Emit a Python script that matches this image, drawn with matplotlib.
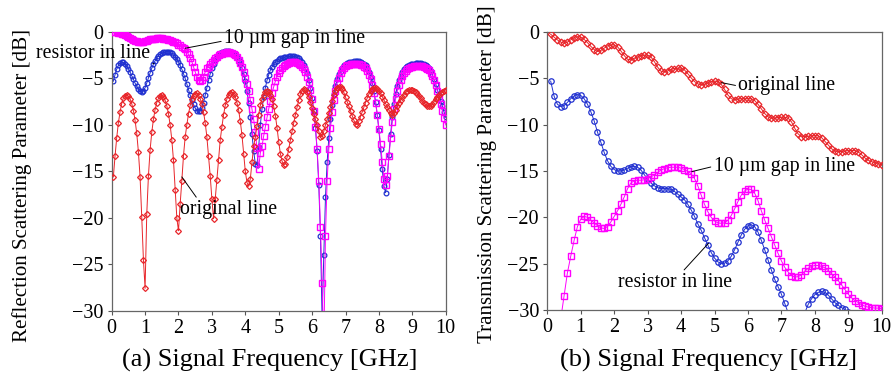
import numpy as np
import matplotlib
matplotlib.use('Agg')
import matplotlib.pyplot as plt

plt.rcParams['font.family'] = ['Liberation Serif', 'DejaVu Serif']

# (a) reflection, sweep 0.05 .. 10 GHz, step 0.05 GHz
freq_a = np.round(np.arange(1, 201) * 0.05, 2)

s11_original = [
    -15.6, -13.4, -11.4, -9.8, -8.6, -7.7, -7.1, -6.85, -6.8, -6.9,
    -7.2, -7.7, -8.45, -9.5, -10.9, -12.9, -15.6, -19.9, -24.5, -27.6,
    -19.6, -15.5, -12.7, -10.8, -9.4, -8.35, -7.6, -7.15, -6.87, -6.82,
    -7.0, -7.35, -7.95, -8.8, -10.0, -11.6, -13.8, -17.0, -20.0, -21.4,
    -18.5, -16.0, -13.3, -11.3, -10.0, -8.8, -7.9, -7.25, -6.85, -6.64,
    -6.6, -6.8, -7.2, -7.75, -8.6, -9.8, -11.3, -13.4, -15.5, -18.0,
    -20.1, -18.0, -15.9, -13.75, -11.6, -10.2, -8.9, -7.9, -7.2, -6.8,
    -6.55, -6.5, -6.7, -7.0, -7.6, -8.4, -9.6, -11.1, -13.1, -15.0,
    -16.2, -16.6, -15.8, -14.0, -12.3, -11.3, -10.1, -8.9, -7.9, -7.2,
    -6.75, -6.5, -6.4, -6.45, -6.75, -7.25, -8.0, -9.0, -10.3, -11.8,
    -13.1, -13.9, -14.3, -14.2, -13.5, -12.6, -11.6, -10.7, -9.8, -8.9,
    -8.1, -7.3, -6.7, -6.3, -6.1, -6.2, -6.5, -7.0, -7.55, -8.2,
    -8.8, -9.4, -10.05, -10.7, -11.3, -11.2, -10.7, -10.0, -9.4, -8.7,
    -8.1, -7.4, -6.8, -6.35, -6.0, -5.9, -5.95, -6.15, -6.5, -7.0,
    -7.5, -8.0, -8.5, -9.0, -9.5, -9.85, -10.0, -9.6, -9.1, -8.6,
    -8.1, -7.6, -7.1, -6.7, -6.35, -6.1, -6.0, -6.0, -6.1, -6.3,
    -6.6, -6.95, -7.3, -7.7, -8.05, -8.4, -8.7, -8.9, -8.75, -8.4,
    -8.0, -7.65, -7.3, -7.0, -6.75, -6.5, -6.35, -6.27, -6.25, -6.25,
    -6.3, -6.45, -6.65, -6.9, -7.15, -7.4, -7.6, -7.8, -7.95, -8.0,
    -7.95, -7.75, -7.5, -7.25, -7.0, -6.8, -6.6, -6.45, -6.3, -6.2,
]

s11_resistor = [
    -5.3, -4.6, -4.0, -3.6, -3.35, -3.25, -3.25, -3.4, -3.65, -3.95,
    -4.3, -4.7, -5.1, -5.5, -5.85, -6.15, -6.35, -6.45, -6.35, -6.0,
    -5.5, -4.95, -4.4, -3.9, -3.45, -3.1, -2.8, -2.55, -2.4, -2.25,
    -2.2, -2.15, -2.15, -2.15, -2.2, -2.3, -2.45, -2.65, -2.9, -3.2,
    -3.6, -4.0, -4.5, -5.0, -5.6, -6.2, -6.8, -7.3, -7.8, -8.2,
    -8.45, -8.55, -8.5, -8.2, -7.6, -6.8, -6.0, -5.2, -4.5, -3.9,
    -3.4, -3.0, -2.7, -2.45, -2.3, -2.2, -2.1, -2.05, -2.05, -2.05,
    -2.1, -2.15, -2.25, -2.45, -2.7, -3.0, -3.4, -3.9, -4.5, -5.3,
    -6.3, -7.6, -9.2, -11.0, -12.8, -14.2, -14.3, -12.4, -10.0, -8.3,
    -7.0, -6.0, -5.2, -4.6, -4.1, -3.75, -3.45, -3.25, -3.1, -2.95,
    -2.85, -2.78, -2.72, -2.68, -2.65, -2.63, -2.62, -2.62, -2.63, -2.66,
    -2.72, -2.82, -2.97, -3.2, -3.5, -3.9, -4.45, -5.15, -6.0, -7.1,
    -8.5, -10.3, -12.8, -16.5, -22.0, -31.0, -24.0, -17.8, -14.0, -11.4,
    -9.4, -7.9, -6.7, -5.8, -5.1, -4.55, -4.15, -3.85, -3.6, -3.45,
    -3.35, -3.27, -3.25, -3.2, -3.17, -3.15, -3.15, -3.17, -3.22, -3.3,
    -3.42, -3.6, -3.9, -4.3, -4.85, -5.5, -6.4, -7.5, -8.9, -10.6,
    -12.6, -14.8, -16.6, -17.3, -15.8, -13.2, -11.0, -9.2, -7.8, -6.7,
    -5.85, -5.2, -4.7, -4.3, -4.0, -3.8, -3.65, -3.55, -3.48, -3.43,
    -3.4, -3.38, -3.37, -3.37, -3.38, -3.4, -3.45, -3.55, -3.7, -3.9,
    -4.2, -4.6, -5.1, -5.6, -6.2, -6.8, -7.4, -8.0, -8.6, -9.2,
]

s11_gap = [
    -0.02, -0.03, -0.05, -0.08, -0.12, -0.18, -0.26, -0.35, -0.45, -0.55,
    -0.65, -0.75, -0.85, -0.93, -0.99, -1.03, -1.05, -1.05, -1.03, -0.98,
    -0.92, -0.86, -0.8, -0.76, -0.72, -0.7, -0.68, -0.67, -0.67, -0.68,
    -0.7, -0.73, -0.77, -0.82, -0.88, -0.95, -1.03, -1.12, -1.22, -1.35,
    -1.45, -1.58, -1.72, -1.88, -2.1, -2.4, -2.8, -3.2, -3.75, -4.3,
    -4.8, -5.15, -5.3, -5.2, -4.8, -4.3, -3.9, -3.75, -3.45, -3.2,
    -3.0, -2.8, -2.65, -2.5, -2.4, -2.32, -2.26, -2.22, -2.2, -2.2,
    -2.22, -2.27, -2.35, -2.5, -2.7, -3.0, -3.35, -3.8, -4.3, -4.9,
    -5.6, -6.4, -7.3, -8.3, -9.4, -10.8, -12.5, -14.7, -13.0, -12.3,
    -11.2, -10.2, -9.2, -8.3, -7.4, -6.6, -5.9, -5.3, -4.8, -4.4,
    -4.1, -3.85, -3.65, -3.5, -3.4, -3.33, -3.28, -3.26, -3.26, -3.28,
    -3.33, -3.42, -3.55, -3.75, -4.0, -4.35, -4.8, -5.4, -6.2, -7.2,
    -8.5, -10.2, -12.6, -16.0, -21.0, -27.0, -34.0, -22.0, -16.0, -12.6,
    -10.3, -8.6, -7.3, -6.3, -5.5, -4.9, -4.45, -4.1, -3.85, -3.7,
    -3.6, -3.52, -3.47, -3.44, -3.42, -3.42, -3.43, -3.46, -3.52, -3.6,
    -3.72, -3.9, -4.2, -4.6, -5.1, -5.75, -6.6, -7.6, -8.9, -10.4,
    -12.1, -14.0, -15.8, -16.5, -15.5, -13.4, -11.4, -9.7, -8.3, -7.2,
    -6.35, -5.7, -5.15, -4.75, -4.45, -4.2, -4.02, -3.9, -3.8, -3.74,
    -3.7, -3.68, -3.67, -3.67, -3.68, -3.7, -3.75, -3.83, -3.95, -4.12,
    -4.38, -4.75, -5.2, -5.75, -6.4, -7.1, -7.8, -8.5, -9.25, -10.0,
]

# (b) transmission, sweep 0.1 .. 10 GHz, step 0.1 GHz
freq_b = np.round(np.arange(1, 101) * 0.1, 1)

s21_original = [
    -0.25, -0.55, -0.85, -1.1, -1.2, -1.1, -0.85, -0.6, -0.5, -0.55,
    -0.8, -1.15, -1.55, -1.9, -2.1, -2.0, -1.75, -1.5, -1.4, -1.4,
    -1.6, -2.05, -2.55, -2.95, -3.0, -2.85, -2.7, -2.55, -2.5, -2.5,
    -2.7, -3.2, -3.8, -4.25, -4.3, -4.2, -4.05, -3.95, -3.9, -3.9,
    -4.1, -4.5, -4.95, -5.35, -5.6, -5.7, -5.65, -5.5, -5.35, -5.3,
    -5.35, -5.65, -6.2, -6.8, -7.2, -7.3, -7.25, -7.2, -7.2, -7.2,
    -7.2, -7.4, -7.8, -8.3, -8.8, -9.15, -9.3, -9.3, -9.25, -9.2,
    -9.2, -9.3, -9.7, -10.4, -11.0, -11.3, -11.3, -11.25, -11.2, -11.2,
    -11.2, -11.4, -11.8, -12.2, -12.6, -12.85, -12.9, -12.9, -12.85, -12.8,
    -12.8, -12.8, -12.95, -13.25, -13.6, -13.85, -14.0, -14.1, -14.2, -14.35,
]

s21_resistor = [
    -5.3, -6.9, -7.8, -8.05, -7.95, -7.6, -7.2, -6.9, -6.75, -6.85,
    -7.2, -7.8, -8.6, -9.6, -10.8, -11.9, -13.0, -13.9, -14.5, -14.85,
    -15.0, -15.0, -14.9, -14.7, -14.55, -14.5, -14.6, -14.9, -15.4, -15.9,
    -16.3, -16.6, -16.8, -16.9, -16.9, -16.9, -17.0, -17.2, -17.5, -17.8,
    -18.1, -18.6, -19.2, -19.9, -20.7, -21.4, -22.2, -23.0, -23.8, -24.4,
    -24.8, -25.0, -24.95, -24.7, -24.2, -23.5, -22.7, -21.9, -21.3, -20.9,
    -20.8, -21.0, -21.6, -22.5, -23.5, -24.6, -25.7, -26.7, -27.5, -28.3,
    -29.3, -30.3, -31.0, -31.4, -31.4, -31.0, -30.3, -29.4, -28.8, -28.35,
    -28.1, -28.0, -28.1, -28.4, -28.8, -29.2, -29.5, -29.75, -29.95, -30.2,
    -30.5, -30.9, -31.2, -31.5, -31.8, -32.0, -32.2, -32.4, -32.6, -32.8,
]

s21_gap = [
    -40.0, -37.0, -34.0, -31.0, -28.5, -26.0, -24.2, -22.5, -21.0, -20.2,
    -19.9, -20.0, -20.3, -20.6, -20.9, -21.15, -21.2, -21.0, -20.5, -19.9,
    -19.3, -18.6, -17.8, -16.9, -16.3, -16.05, -16.0, -16.0, -15.95, -15.85,
    -15.65, -15.4, -15.15, -14.9, -14.75, -14.65, -14.6, -14.6, -14.6, -14.7,
    -14.85, -15.05, -15.3, -15.8, -16.6, -17.6, -18.6, -19.4, -20.0, -20.4,
    -20.6, -20.65, -20.6, -20.3, -19.8, -19.1, -18.3, -17.6, -17.15, -16.95,
    -17.0, -17.4, -18.2, -19.3, -20.3, -21.2, -22.1, -23.0, -23.9, -24.7,
    -25.4, -25.9, -26.3, -26.45, -26.4, -26.2, -25.8, -25.5, -25.3, -25.2,
    -25.2, -25.3, -25.45, -25.75, -26.1, -26.45, -26.85, -27.3, -27.8, -28.3,
    -28.7, -29.0, -29.2, -29.45, -29.6, -29.7, -29.75, -29.8, -29.8, -29.85,
]

x_ticks = list(range(0, 11))
y_ticks = [0, -5, -10, -15, -20, -25, -30]

RED = '#e8252a'
BLUE = '#2030d0'
MAGENTA = '#ff00ff'


def draw_series(ax, f, resistor, gap, original, ms=1.0):
    ax.plot(f, resistor, '-o', color=BLUE, lw=0.7, ms=3.4 * ms, mfc='none', mew=0.9, zorder=2)
    ax.plot(f, gap, '-s', color=MAGENTA, lw=0.7, ms=4.0 * ms, mfc='none', mew=1.0, zorder=3)
    ax.plot(f, original, '-D', color=RED, lw=0.7, ms=3.0 * ms, mfc='none', mew=0.9, zorder=4)


def style_axes(ax, ylabel, xlabel, ylab_pos, xlab_pos):
    ax.set_xlim(0, 10)
    ax.set_ylim(-30, 0)
    ax.set_xticks(x_ticks)
    ax.set_yticks(y_ticks)
    ax.tick_params(direction='out', length=3.0, width=0.8, labelsize=14.5,
                   colors='#555555', labelcolor='black', pad=3)
    for sp in ax.spines.values():
        sp.set_color('#666666')
        sp.set_linewidth(0.9)
    ax.set_ylabel(ylabel, fontsize=15.1)
    ax.yaxis.set_label_coords(*ylab_pos)
    ax.set_xlabel(xlabel, fontsize=19)
    ax.xaxis.set_label_coords(*xlab_pos)


fig = plt.figure(figsize=(8.92, 3.73), dpi=100)
ax_a = fig.add_axes([0.1252, 0.167, 0.3745, 0.7472])
ax_b = fig.add_axes([0.6136, 0.169, 0.3749, 0.7453])

draw_series(ax_a, freq_a, s11_resistor, s11_gap, s11_original)
draw_series(ax_b, freq_b, s21_resistor, s21_gap, s21_original, ms=1.15)

style_axes(ax_a, 'Reflection Scattering Parameter [dB]', '(a) Signal Frequency [GHz]',
           (-0.24, 0.45), (0.474, -0.137))
style_axes(ax_b, 'Transmission Scattering Parameter [dB]', '(b) Signal Frequency [GHz]',
           (-0.152, 0.49), (0.481, -0.14))

line_kw = dict(arrowstyle='-', color='black', lw=0.7, shrinkA=0, shrinkB=0)
txt_kw = dict(fontsize=14.3, zorder=10, annotation_clip=False)

# labels in (a)
ax_a.annotate('10 \u00b5m gap in line', xy=(2.2, -1.75), xytext=(3.36, -0.75),
              ha='left', va='center', arrowprops=dict(relpos=(0, 0.4), **line_kw), **txt_kw)
ax_a.annotate('resistor in line', xy=(1.27, -3.4), xytext=(-2.27, -2.75),
              ha='left', va='baseline', arrowprops=dict(relpos=(0.93, 0.05), **line_kw), **txt_kw)
ax_a.annotate('original line', xy=(2.1, -15.6), xytext=(2.05, -19.1),
              ha='left', va='center', arrowprops=dict(relpos=(0.2, 0.9), **line_kw), **txt_kw)

# labels in (b)
ax_b.annotate('original line', xy=(5.21, -5.47), xytext=(5.71, -5.83),
              ha='left', va='center', arrowprops=dict(relpos=(0, 0.5), **line_kw), **txt_kw)
ax_b.annotate('10 \u00b5m gap in line', xy=(4.32, -15.07), xytext=(4.97, -14.5),
              ha='left', va='center', arrowprops=dict(relpos=(0, 0.5), **line_kw), **txt_kw)
ax_b.annotate('resistor in line', xy=(4.82, -22.8), xytext=(2.12, -27.0),
              ha='left', va='center', arrowprops=dict(relpos=(0.54, 0.9), **line_kw), **txt_kw)

fig.savefig('out.png', dpi=100)
